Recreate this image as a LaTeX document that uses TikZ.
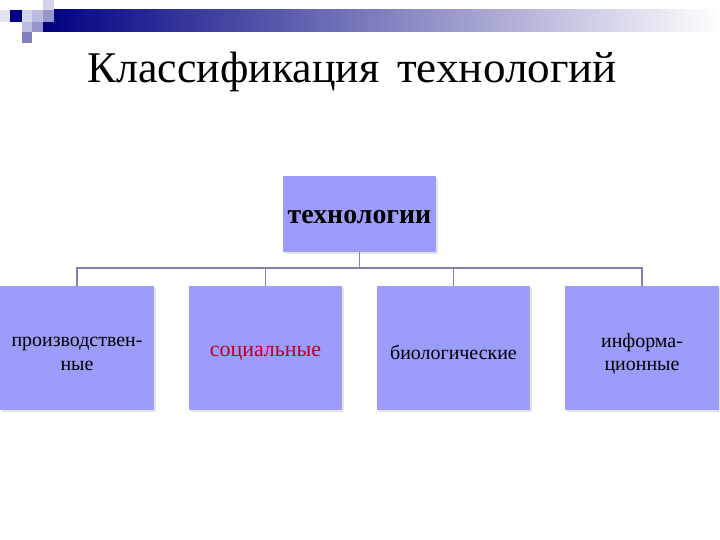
\documentclass[tikz,border=0pt]{standalone}
\usepackage{fontspec}
\setmainfont{Liberation Serif}
\usetikzlibrary{shadows}
\definecolor{boxfill}{RGB}{156,156,250}
\definecolor{conncol}{RGB}{128,128,180}
\definecolor{navy}{RGB}{0,0,128}
\definecolor{txtred}{RGB}{190,0,30}
\definecolor{sqfaint}{RGB}{228,228,242}
\definecolor{sqpale}{RGB}{212,212,234}
\definecolor{sqlight}{RGB}{188,188,224}
\definecolor{sqmid}{RGB}{150,150,204}
\definecolor{sqdeep}{RGB}{128,128,190}
\tikzset{
  box/.style={draw=none, fill=boxfill, inner sep=0pt, minimum height=124bp,
    drop shadow={shadow xshift=2bp, shadow yshift=-2bp, fill=black!10, opacity=1}},
  topbox/.style={box, minimum width=153bp, minimum height=76bp},
  btext/.style={inner sep=0pt, align=center, font=\fontsize{20}{24}\selectfont},
  toptext/.style={inner sep=0pt, font=\bfseries\fontsize{28}{32}\selectfont},
  conn/.style={draw=conncol, line width=1.5bp}
}
\begin{document}
\begin{tikzpicture}[x=1bp,y=-1bp]
\useasboundingbox[fill=white] (0,0) rectangle (720,540);
% header bar
\shade[left color=navy, right color=white] (43,10) rectangle (720,32);
\fill[sqfaint] (0,10) rectangle (10,22);
\fill[navy] (10,10) rectangle (22,22);
\fill[sqpale] (22,10) rectangle (32,22);
\fill[sqlight] (32,10) rectangle (43,22);
\fill[sqpale] (43,0) rectangle (54,10);
\fill[sqmid] (43,10) rectangle (54,22);
\fill[sqlight] (22,22) rectangle (32,32);
\fill[sqmid] (32,22) rectangle (43,32);
\fill[sqdeep] (22,32) rectangle (32,43);
% title
\node[anchor=base west, inner sep=0pt, font=\fontsize{44}{50}\selectfont] (title) at (87,83) {Классификация\hspace{18bp}\scalebox{1.03}[1]{технологий}};
% boxes
\node[topbox] (top) at (359.5,214) {};
\node[box, minimum width=154bp] (b1) at (77,348) {};
\node[box, minimum width=153bp] (b2) at (265.5,348) {};
\node[box, minimum width=153bp] (b3) at (453.5,348) {};
\node[box, minimum width=154bp] (b4) at (642,348) {};
% texts
\node[toptext] (topt) at ([yshift=-3bp]top.center) {технологии};
\node[btext] (b1t) at ([yshift=-6bp]b1.center) {производствен-\\ные};
\node[btext, text=txtred, font=\fontsize{22}{26}\selectfont] (b2t) at ([yshift=-5bp]b2.center) {социальные};
\node[btext] (b3t) at ([yshift=-4bp]b3.center) {биологические};
\node[btext] (b4t) at ([yshift=-6bp]b4.center) {информа-\\ционные};
% connectors
\coordinate (j) at (359.5,268);
\draw[conn] (top.south) -- (j);
\draw[conn] (j) -| (b1.north);
\draw[conn] (j) -| (b2.north);
\draw[conn] (j) -| (b3.north);
\draw[conn] (j) -| (b4.north);
\end{tikzpicture}
\end{document}
